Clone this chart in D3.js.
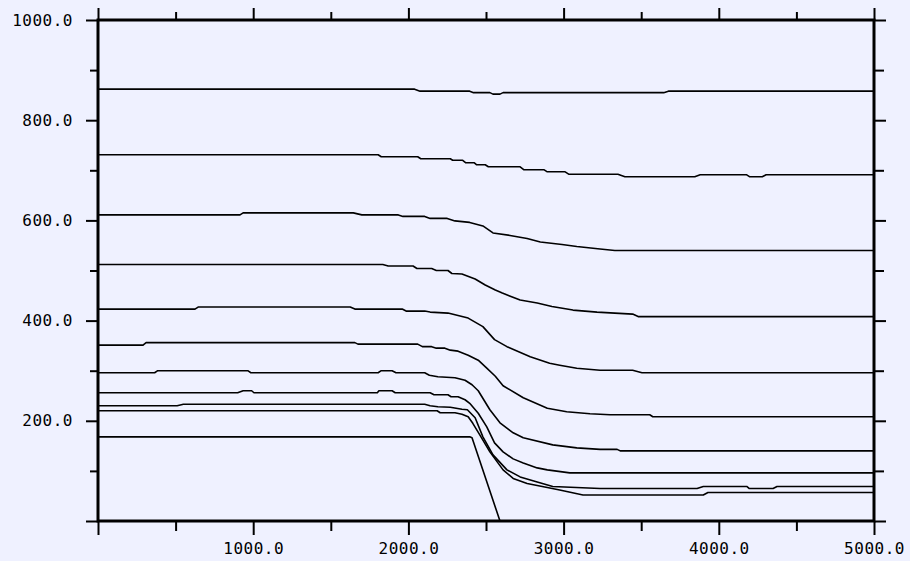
<!DOCTYPE html>
<html>
<head>
<meta charset="utf-8">
<script src="https://cdn.jsdelivr.net/npm/d3@7"></script>
<style>
  body { margin: 0; background: #eff1ff; }
  svg { display: block; }
</style>
</head>
<body>
<div id="graph"></div>
<script>
/*global d3 */

// tick values
var xMajor = [0, 1000, 2000, 3000, 4000, 5000],
    xMinor = [500, 1500, 2500, 3500, 4500],
    yMajor = [0, 200, 400, 600, 800, 1000],
    yMinor = [100, 300, 500, 700, 900];

// contour lines, [x, y]
var line1 = [[0, 862], [2040, 862], [2075, 858], [2395, 858], [2420, 855], [2525, 855], [2545, 852], [2590, 852], [2610, 855], [3645, 855], [3675, 858], [5000, 858]];
var line2 = [[0, 731], [1805, 731], [1825, 727], [2060, 727], [2080, 723], [2270, 723], [2285, 720], [2350, 720], [2370, 715], [2425, 715], [2440, 711], [2495, 711], [2515, 707], [2720, 707], [2745, 701], [2875, 701], [2895, 697], [3010, 697], [3035, 692], [3350, 692], [3395, 687], [3845, 687], [3880, 691], [4180, 691], [4200, 687], [4280, 687], [4305, 691], [5000, 691]];
var line3 = [[0, 611], [915, 611], [935, 615], [1645, 615], [1700, 611], [1935, 611], [1965, 608], [2105, 608], [2140, 604], [2250, 604], [2300, 599], [2395, 596], [2480, 589], [2545, 575], [2655, 570], [2765, 564], [2850, 557], [2990, 552], [3085, 548], [3235, 543], [3330, 540], [5000, 540]];
var line4 = [[0, 512], [1835, 512], [1870, 509], [2030, 509], [2055, 504], [2150, 504], [2180, 500], [2255, 500], [2280, 494], [2345, 493], [2430, 483], [2495, 471], [2560, 461], [2605, 455], [2720, 441], [2830, 435], [2925, 428], [3060, 421], [3215, 417], [3445, 413], [3480, 408], [5000, 408]];
var line5 = [[0, 423], [625, 423], [645, 427], [1625, 427], [1655, 423], [1960, 423], [1985, 419], [2105, 419], [2140, 417], [2255, 415], [2385, 405], [2480, 388], [2555, 362], [2635, 348], [2785, 328], [2910, 315], [2975, 311], [3085, 305], [3235, 301], [3445, 301], [3505, 296], [5000, 296]];
var line6 = [[0, 351], [290, 351], [310, 356], [1655, 356], [1675, 353], [2060, 353], [2090, 348], [2150, 348], [2180, 345], [2235, 345], [2270, 341], [2320, 339], [2385, 331], [2450, 321], [2505, 305], [2560, 289], [2610, 270], [2740, 246], [2895, 225], [3020, 218], [3170, 214], [3300, 212], [3555, 212], [3575, 208], [5000, 208]];
var line7 = [[0, 296], [365, 296], [385, 300], [965, 300], [985, 296], [1805, 296], [1825, 300], [1895, 300], [1920, 296], [2105, 296], [2135, 291], [2190, 288], [2300, 286], [2365, 281], [2410, 272], [2450, 260], [2525, 222], [2590, 196], [2675, 176], [2740, 166], [2930, 152], [3085, 146], [3235, 143], [3345, 143], [3365, 140], [5000, 140]];
var line8 = [[0, 256], [900, 256], [935, 260], [990, 260], [1005, 256], [1800, 256], [1810, 260], [1895, 260], [1915, 256], [2140, 256], [2165, 252], [2255, 252], [2275, 248], [2320, 248], [2365, 242], [2395, 235], [2450, 215], [2505, 188], [2555, 156], [2610, 138], [2675, 124], [2740, 116], [2830, 106], [2895, 102], [3040, 96], [5000, 96]];
var line9 = [[0, 230], [510, 230], [550, 233], [2105, 233], [2140, 230], [2190, 228], [2270, 227], [2345, 223], [2380, 222], [2430, 206], [2480, 168], [2545, 132], [2635, 102], [2720, 88], [2830, 78], [2930, 69], [3235, 65], [3860, 65], [3900, 69], [4180, 69], [4195, 65], [4350, 65], [4375, 69], [5000, 69]];
var line10 = [[0, 220], [2185, 220], [2205, 216], [2300, 216], [2345, 213], [2385, 208], [2415, 195], [2460, 172], [2525, 138], [2610, 102], [2675, 85], [2765, 75], [2895, 67], [2975, 62], [3125, 52], [3900, 52], [3930, 57], [5000, 57]];
var line11 = [[0, 168], [2395, 168], [2410, 166], [2590, 0]];

var contours = [line1, line2, line3, line4, line5, line6, line7, line8, line9, line10, line11];

function drawChart() {
    "use strict";
    var W = 910, H = 561,
        margin = {top: 20, right: 36, bottom: 40, left: 98},
        width = W - margin.left - margin.right,
        height = H - margin.top - margin.bottom,
        fmt = d3.format(".1f"),
        label = function (d) { return d === 0 ? "" : fmt(d); },

        svg = d3.select("#graph")
            .append("svg")
                .attr("width", W)
                .attr("height", H)
                .style("background", "#eff1ff"),

        g = svg.append("g")
            .attr("transform", "translate(" + margin.left + "," + margin.top + ")"),

        x = d3.scaleLinear().domain([0, 5000]).range([0, width]),
        y = d3.scaleLinear().domain([0, 1000]).range([height, 0]);

    function styleAxis(sel) {
        sel.select(".domain").remove();
        sel.selectAll(".tick line")
            .attr("stroke", "#000")
            .attr("stroke-width", 2);
        sel.selectAll(".tick text")
            .attr("fill", "#000")
            .style("font-family", "'DejaVu Sans Mono', monospace")
            .style("font-size", "16px")
            .style("letter-spacing", "0.5px");
    }

    // bottom
    g.append("g")
        .attr("transform", "translate(0," + height + ")")
        .call(d3.axisBottom(x).tickValues(xMajor).tickSize(14).tickPadding(8).tickFormat(label))
        .call(styleAxis);
    g.append("g")
        .attr("transform", "translate(0," + height + ")")
        .call(d3.axisBottom(x).tickValues(xMinor).tickSize(10).tickFormat(""))
        .call(styleAxis);

    // top
    g.append("g")
        .call(d3.axisTop(x).tickValues(xMajor).tickSize(12).tickFormat(""))
        .call(styleAxis);
    g.append("g")
        .call(d3.axisTop(x).tickValues(xMinor).tickSize(8).tickFormat(""))
        .call(styleAxis);

    // left
    g.append("g")
        .call(d3.axisLeft(y).tickValues(yMajor).tickSize(12).tickPadding(13).tickFormat(label))
        .call(styleAxis);
    g.append("g")
        .call(d3.axisLeft(y).tickValues(yMinor).tickSize(8).tickFormat(""))
        .call(styleAxis);

    // right
    g.append("g")
        .attr("transform", "translate(" + width + ",0)")
        .call(d3.axisRight(y).tickValues(yMajor).tickSize(12).tickFormat(""))
        .call(styleAxis);
    g.append("g")
        .attr("transform", "translate(" + width + ",0)")
        .call(d3.axisRight(y).tickValues(yMinor).tickSize(10).tickFormat(""))
        .call(styleAxis);

    // contours
    g.selectAll(".contour")
        .data(contours)
        .enter()
        .append("path")
        .attr("class", "contour")
        .attr("fill", "none")
        .attr("stroke", "#000")
        .attr("stroke-width", 1.6)
        .attr("stroke-linejoin", "round")
        .attr("d", d3.line()
            .x(function (d) { return x(d[0]); })
            .y(function (d) { return y(d[1]); }));

    // frame
    g.append("rect")
        .attr("x", 0)
        .attr("y", 0)
        .attr("width", width)
        .attr("height", height)
        .attr("fill", "none")
        .attr("stroke", "#000")
        .attr("stroke-width", 3);
}

drawChart();
</script>
</body>
</html>
